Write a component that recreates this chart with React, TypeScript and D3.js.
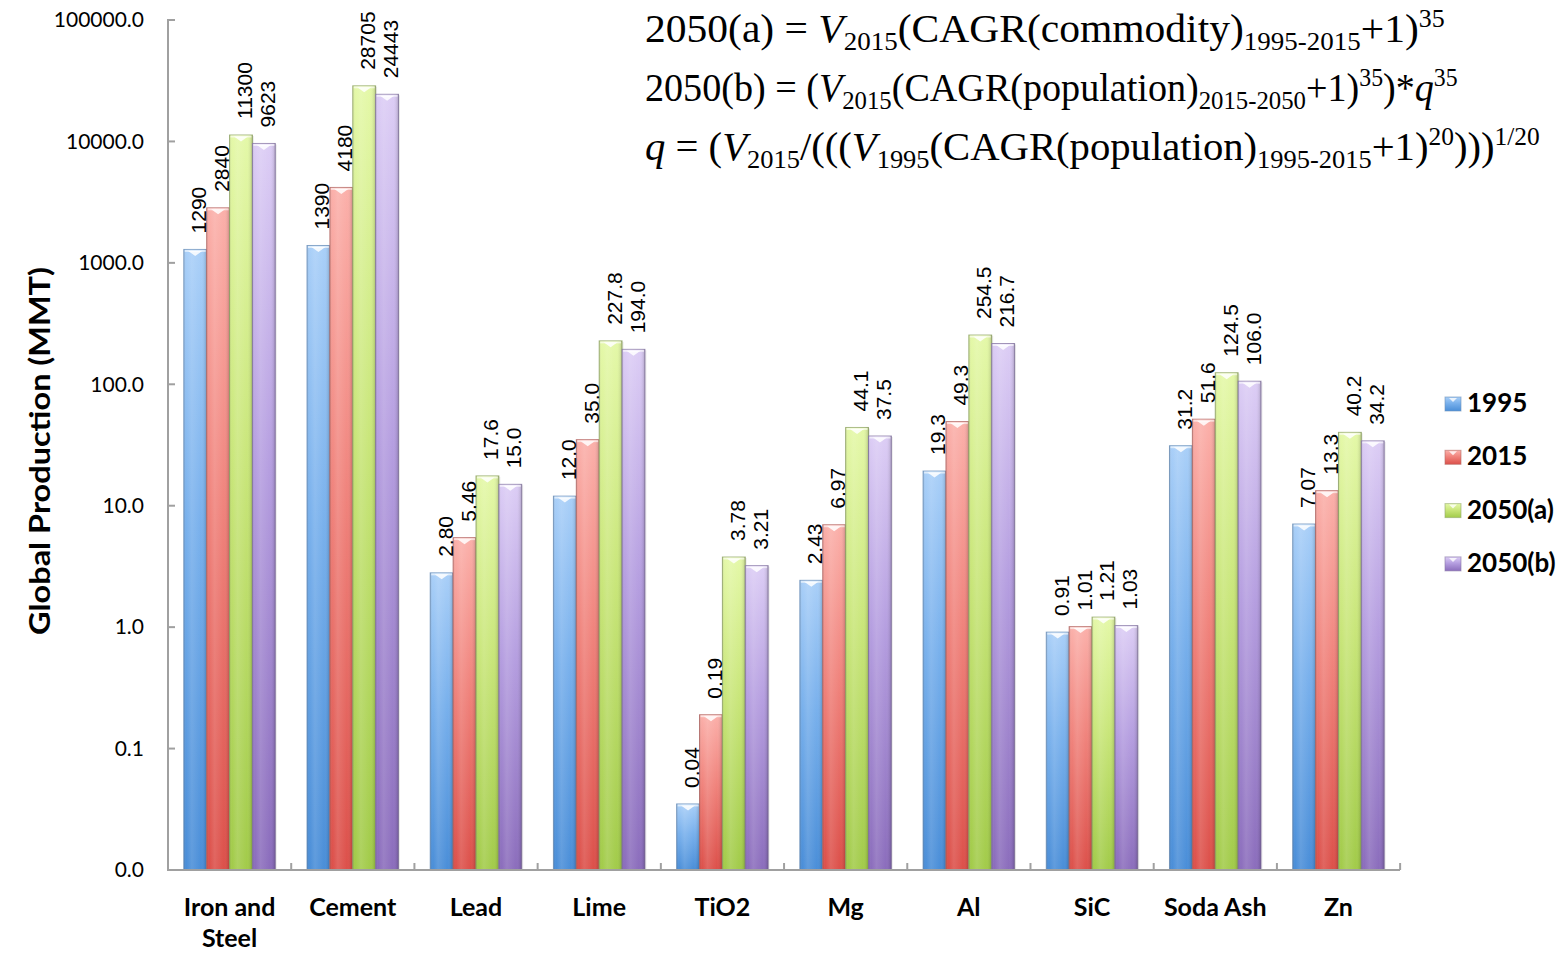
import React, { useLayoutEffect, useRef, useState } from "react";
import * as d3 from "d3";

const categories = ["Iron and\nSteel", "Cement", "Lead", "Lime", "TiO2", "Mg", "Al", "SiC", "Soda Ash", "Zn"];
const seriesNames = ["1995", "2015", "2050(a)", "2050(b)"];

const values1995 = [1290, 1390, 2.8, 12.0, 0.035, 2.43, 19.3, 0.91, 31.2, 7.07];
const values2015 = [2840, 4180, 5.46, 35.0, 0.19, 6.97, 49.3, 1.01, 51.6, 13.3];
const values2050a = [11300, 28705, 17.6, 227.8, 3.78, 44.1, 254.5, 1.21, 124.5, 40.2];
const values2050b = [9623, 24443, 15.0, 194.0, 3.21, 37.5, 216.7, 1.03, 106.0, 34.2];

const labels1995 = ["1290", "1390", "2.80", "12.0", "0.04", "2.43", "19.3", "0.91", "31.2", "7.07"];
const labels2015 = ["2840", "4180", "5.46", "35.0", "0.19", "6.97", "49.3", "1.01", "51.6", "13.3"];
const labels2050a = ["11300", "28705", "17.6", "227.8", "3.78", "44.1", "254.5", "1.21", "124.5", "40.2"];
const labels2050b = ["9623", "24443", "15.0", "194.0", "3.21", "37.5", "216.7", "1.03", "106.0", "34.2"];

const yTicks = [0.01, 0.1, 1, 10, 100, 1000, 10000, 100000];

const seriesValues = [values1995, values2015, values2050a, values2050b];
const seriesLabels = [labels1995, labels2015, labels2050a, labels2050b];

const palette = [
  { top: "#a9cff8", mid: "#78b0ec", bot: "#4a8ed8", edge: "#6f93bd" },
  { top: "#fbb0aa", mid: "#f0837c", bot: "#dc504a", edge: "#b46a66" },
  { top: "#e4f8a8", mid: "#c9e67a", bot: "#a2cb4a", edge: "#93a86a" },
  { top: "#dccdf5", mid: "#b59ee0", bot: "#8b6dbc", edge: "#8a7aa6" },
];

const W = 1568;
const H = 954;
const axisX = 168;
const axisRight = 1400;
const plotTop = 20;
const plotBottom = 870;

function Formula({ x, y, target, children }) {
  const ref = useRef(null);
  const [sx, setSx] = useState(1);
  useLayoutEffect(() => {
    if (ref.current) {
      const bb = ref.current.getBBox();
      if (bb.width > 0) setSx(target / bb.width);
    }
  }, [target]);
  return (
    <g transform={`translate(${x},${y}) scale(${sx},1)`}>
      <text ref={ref} x={0} y={0} fontFamily="'Liberation Serif', 'DejaVu Serif', serif" fontSize={40} fill="#000">
        {children}
      </text>
    </g>
  );
}

export default function App() {
  const x0 = d3.scaleBand<string>().domain(categories).range([axisX, axisRight]).paddingInner(0.257).paddingOuter(0.128);
  const x1 = d3.scaleBand<string>().domain(seriesNames).range([0, x0.bandwidth()]).padding(0);
  const y = d3.scaleLog().domain([0.01, 100000]).range([plotBottom, plotTop]);
  const fmt = d3.format(".1f");
  const step = x0.step();
  const bw = x1.bandwidth();

  const sub = 26;
  const sup = 25;
  const sd = 8;
  const su = -15;

  return (
    <svg width={W} height={H} style={{ position: "absolute", left: 0, top: 0, background: "#fff" }}>
      <defs>
        {palette.map((p, i) => (
          <linearGradient key={i} id={`g${i}`} x1="0" y1="0" x2="0" y2="1">
            <stop offset="0" stopColor={p.top} />
            <stop offset="0.45" stopColor={p.mid} />
            <stop offset="1" stopColor={p.bot} />
          </linearGradient>
        ))}
        <linearGradient id="shade" x1="0" y1="0" x2="1" y2="0">
          <stop offset="0" stopColor="#000" stopOpacity="0.12" />
          <stop offset="0.12" stopColor="#fff" stopOpacity="0.0" />
          <stop offset="0.35" stopColor="#fff" stopOpacity="0.12" />
          <stop offset="0.75" stopColor="#fff" stopOpacity="0.0" />
          <stop offset="0.92" stopColor="#000" stopOpacity="0.08" />
          <stop offset="1" stopColor="#000" stopOpacity="0.2" />
        </linearGradient>
      </defs>

      {/* bars */}
      {categories.map((c, ci) => (
        <g key={c}>
          {seriesNames.map((s, si) => {
            const v = seriesValues[si][ci];
            const bx = (x0(c) as number) + (x1(s) as number);
            const top = y(v);
            const h = plotBottom - top;
            const cx = bx + bw / 2;
            return (
              <g key={s}>
                <rect x={bx + 1.5} y={top + 1} width={bw} height={h} fill="#000" opacity={0.08} />
                <rect x={bx} y={top} width={bw} height={h} fill={`url(#g${si})`} stroke={palette[si].edge} strokeOpacity={0.8} strokeWidth={1} />
                <rect x={bx} y={top} width={bw} height={h} fill="url(#shade)" />
                <line x1={bx + 1} x2={bx + bw - 1} y1={top + 1.5} y2={top + 1.5} stroke="#fff" strokeOpacity={0.6} strokeWidth={2} />
                <polygon
                  points={`${cx - 7},${top + 1.5} ${cx + 7},${top + 1.5} ${cx},${top + 6.5}`}
                  fill="#fff"
                  opacity={0.85}
                />
              </g>
            );
          })}
        </g>
      ))}

      {/* data labels */}
      {categories.map((c, ci) => (
        <g key={"l" + c}>
          {seriesNames.map((s, si) => {
            const v = seriesValues[si][ci];
            const bx = (x0(c) as number) + (x1(s) as number);
            const top = y(v);
            const lx = bx + bw / 2 + 11;
            const ly = top - 16;
            return (
              <text
                key={s}
                transform={`translate(${lx},${ly}) rotate(-90)`}
                fontFamily="'Liberation Sans', Arial, sans-serif"
                fontSize={21}
                fill="#000"
              >
                {seriesLabels[si][ci]}
              </text>
            );
          })}
        </g>
      ))}

      {/* y axis */}
      <line x1={axisX} x2={axisX} y1={plotTop - 1} y2={plotBottom + 1} stroke="#a0a0a0" strokeWidth={2} />
      {yTicks.map((t) => (
        <g key={t}>
          <line x1={axisX} x2={axisX + 7} y1={y(t)} y2={y(t)} stroke="#a0a0a0" strokeWidth={2} />
          <text x={144} y={y(t)} dy="0.35em" textAnchor="end" fontFamily="Lato, 'Open Sans', sans-serif" fontSize={21} fill="#000">
            {fmt(t)}
          </text>
        </g>
      ))}

      {/* x axis */}
      <line x1={axisX - 1} x2={axisRight} y1={plotBottom} y2={plotBottom} stroke="#a0a0a0" strokeWidth={2} />
      {categories.map((c, ci) => {
        const bx = axisX + step * (ci + 1);
        return <line key={"t" + c} x1={bx} x2={bx} y1={plotBottom} y2={plotBottom - 7} stroke="#a0a0a0" strokeWidth={2} />;
      })}
      {categories.map((c) => {
        const cx = (x0(c) as number) + x0.bandwidth() / 2;
        const lines = c.split("\n");
        return (
          <text key={"c" + c} textAnchor="middle" fontFamily="Lato, 'Open Sans', sans-serif" fontWeight="bold" fontSize={25} fill="#000">
            {lines.map((ln, li) => (
              <tspan key={li} x={cx} y={916 + li * 31}>
                {ln}
              </tspan>
            ))}
          </text>
        );
      })}

      {/* y axis title */}
      <text
        transform={`translate(50,451) rotate(-90)`}
        textAnchor="middle"
        fontFamily="Lato, 'Open Sans', sans-serif"
        fontWeight="bold"
        fontSize={28}
        textLength={368}
        lengthAdjust="spacingAndGlyphs"
        fill="#000"
      >
        Global Production (MMT)
      </text>

      {/* legend */}
      {seriesNames.map((s, si) => {
        const ly = 412 + si * 53.3;
        return (
          <g key={"lg" + s}>
            <rect x={1445} y={ly - 15} width={16} height={14} fill={`url(#g${si})`} stroke={palette[si].edge} strokeOpacity={0.6} />
            <polygon points={`${1449},${ly - 14} ${1457},${ly - 14} ${1453},${ly - 10}`} fill="#fff" opacity={0.8} />
            <text x={1467} y={ly} fontFamily="Lato, 'Open Sans', sans-serif" fontWeight="bold" fontSize={26} fill="#000">
              {s}
            </text>
          </g>
        );
      })}

      {/* formulas */}
      <Formula x={645} y={42} target={800}>
        <tspan>2050(a) = </tspan>
        <tspan fontStyle="italic">V</tspan>
        <tspan fontSize={sub} dy={sd}>2015</tspan>
        <tspan dy={-sd}>(CAGR(commodity)</tspan>
        <tspan fontSize={sub} dy={sd}>1995-2015</tspan>
        <tspan dy={-sd}>+1)</tspan>
        <tspan fontSize={sup} dy={su}>35</tspan>
      </Formula>
      <Formula x={645} y={101} target={813}>
        <tspan>2050(b) = (</tspan>
        <tspan fontStyle="italic">V</tspan>
        <tspan fontSize={sub} dy={sd}>2015</tspan>
        <tspan dy={-sd}>(CAGR(population)</tspan>
        <tspan fontSize={sub} dy={sd}>2015-2050</tspan>
        <tspan dy={-sd}>+1)</tspan>
        <tspan fontSize={sup} dy={su}>35</tspan>
        <tspan dy={-su}>)*</tspan>
        <tspan fontStyle="italic">q</tspan>
        <tspan fontSize={sup} dy={su}>35</tspan>
      </Formula>
      <Formula x={645} y={160} target={895}>
        <tspan fontStyle="italic">q</tspan>
        <tspan> = (</tspan>
        <tspan fontStyle="italic">V</tspan>
        <tspan fontSize={sub} dy={sd}>2015</tspan>
        <tspan dy={-sd}>/(((</tspan>
        <tspan fontStyle="italic">V</tspan>
        <tspan fontSize={sub} dy={sd}>1995</tspan>
        <tspan dy={-sd}>(CAGR(population)</tspan>
        <tspan fontSize={sub} dy={sd}>1995-2015</tspan>
        <tspan dy={-sd}>+1)</tspan>
        <tspan fontSize={sup} dy={su}>20</tspan>
        <tspan dy={-su}>)))</tspan>
        <tspan fontSize={sup} dy={su}>1/20</tspan>
      </Formula>
    </svg>
  );
}
